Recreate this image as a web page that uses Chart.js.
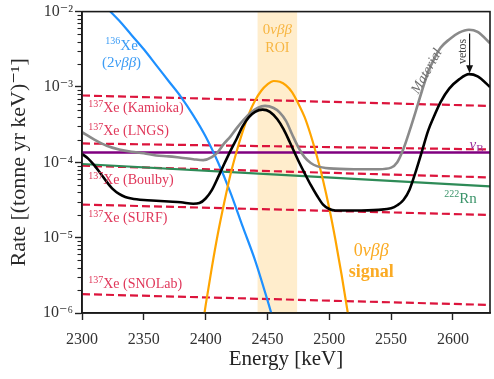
<!DOCTYPE html>
<html><head><meta charset="utf-8">
<script src="https://cdn.jsdelivr.net/npm/chart.js@4/dist/chart.umd.min.js"></script>
<style>html,body{margin:0;padding:0;background:#fff;}canvas{display:block}</style>
</head><body>
<canvas id="c" width="494" height="379"></canvas>
<script>
// ---------- data ----------
const xTicks = [2300, 2350, 2400, 2450, 2500, 2550, 2600];
const yTicks = [1e-6, 1e-5, 1e-4, 1e-3, 1e-2];
const yTickLabels = ['10⁻⁶', '10⁻⁵', '10⁻⁴', '10⁻³', '10⁻²'];
const xRange = [2300, 2630];
const roiRange = [2442, 2474];

// 136Xe 2vbb
const energyXe136 = [2300,2310,2320,2330,2340,2350,2360,2370,2380,2390,2400,2410,2420,2430,2440,2450,2460];
const rateXe136 = [2.4e-2,1.66e-2,1.12e-2,7.6e-3,4.9e-3,3.16e-3,1.95e-3,1.2e-3,7.4e-4,4.2e-4,2.2e-4,1.0e-4,4.0e-5,1.4e-5,5.0e-6,1.48e-6,4.0e-7];

// 0vbb signal
const energySignal = [2395,2400,2405,2410,2415,2420,2425,2430,2435,2440,2445,2450,2455,2460,2465,2470,2475,2480,2485,2490,2495,2500,2505,2510,2515,2520];
const rateSignal = [3.6e-7,1.26e-6,4.0e-6,1.15e-5,2.9e-5,6.8e-5,1.38e-4,2.57e-4,4.4e-4,6.6e-4,8.9e-4,1.08e-3,1.2e-3,1.17e-3,1.05e-3,8.5e-4,6.0e-4,4.0e-4,2.3e-4,1.2e-4,5.75e-5,2.45e-5,9.3e-6,3.2e-6,1.0e-6,2.8e-7];

// Material (before vetos)
const energyMaterial = [2300,2310,2320,2330,2340,2350,2360,2370,2380,2390,2398,2405,2410,2415,2420,2425,2430,2436,2442,2448,2455,2460,2465,2470,2475,2480,2485,2490,2500,2520,2540,2550,2555,2560,2565,2570,2575,2580,2585,2590,2597,2605,2613,2620,2630];
const rateMaterial = [2.51e-4,2.0e-4,1.66e-4,1.48e-4,1.38e-4,1.32e-4,1.23e-4,1.2e-4,1.15e-4,1.1e-4,1.07e-4,1.17e-4,1.38e-4,1.78e-4,2.19e-4,2.82e-4,3.55e-4,4.47e-4,5.25e-4,5.6e-4,5.25e-4,4.57e-4,3.55e-4,2.34e-4,1.58e-4,1.17e-4,9.8e-5,8.9e-5,8.3e-5,8.1e-5,8.1e-5,8.5e-5,1.0e-4,1.51e-4,2.63e-4,4.79e-4,8.9e-4,1.58e-3,2.4e-3,3.31e-3,4.27e-3,5.25e-3,5.75e-3,5.37e-3,3.8e-3];

// Total after vetos
const energyTotal = [2300,2305,2310,2315,2320,2325,2330,2335,2340,2350,2360,2370,2380,2390,2395,2400,2405,2410,2415,2420,2425,2430,2435,2440,2446,2452,2458,2463,2468,2475,2480,2485,2490,2495,2500,2505,2520,2540,2550,2555,2560,2565,2570,2575,2580,2585,2590,2597,2605,2613,2620,2630];
const rateTotal = [1.29e-4,1.12e-4,9.1e-5,7.1e-5,5.5e-5,4.4e-5,3.8e-5,3.47e-5,3.31e-5,3.16e-5,3.09e-5,3.02e-5,2.95e-5,2.82e-5,2.88e-5,3.31e-5,4.27e-5,6.3e-5,9.5e-5,1.41e-4,2.04e-4,3.02e-4,3.98e-4,4.68e-4,5.0e-4,4.68e-4,3.72e-4,2.75e-4,1.86e-4,1.05e-4,7.2e-5,5.0e-5,3.63e-5,2.75e-5,2.4e-5,2.29e-5,2.29e-5,2.34e-5,2.45e-5,2.69e-5,3.16e-5,4.37e-5,7.6e-5,1.41e-4,2.63e-4,4.17e-4,6.3e-4,9.5e-4,1.26e-3,1.48e-3,1.38e-3,1.0e-3];

// 137Xe by site (rate at 2300 keV and 2630 keV)
const xe137Sites = ['Kamioka', 'LNGS', 'Boulby', 'SURF', 'SNOLab'];
const xe137Start = [7.7e-4, 1.78e-4, 9.0e-5, 2.75e-5, 1.78e-6];
const xe137End = [5.6e-4, 1.48e-4, 6.3e-5, 2.0e-5, 1.28e-6];

// solar neutrinos and 222Rn
const rateNuB = [1.35e-4, 1.35e-4];
const rateRn222 = [9.5e-5, 4.8e-5];

// ---------- styling ----------
const SERIF = '"Liberation Serif", "DejaVu Serif", serif';
const pts = (xs, ys) => xs.map((x, i) => ({x, y: ys[i]}));
const lineDs = (data, color, width, order, extra) => Object.assign({
  data, borderColor: color, borderWidth: width, pointRadius: 0, fill: false,
  cubicInterpolationMode: 'monotone', order
}, extra || {});

const datasets = [];
datasets.push(lineDs(pts(energyTotal, rateTotal), '#000000', 2.6, 0));
datasets.push(lineDs(pts(energyMaterial, rateMaterial), '#8a8a8a', 2.6, 1));
datasets.push(lineDs(pts(energySignal, rateSignal), '#ffa500', 2.2, 2));
datasets.push(lineDs(pts(energyXe136, rateXe136), '#1e90ff', 2.2, 3));
datasets.push(lineDs(pts(xRange, rateNuB), '#800080', 2.4, 4));
datasets.push(lineDs(pts(xRange, rateRn222), '#2e8b57', 2.2, 5));
xe137Sites.forEach((s, i) => {
  datasets.push(lineDs(pts(xRange, [xe137Start[i], xe137End[i]]), '#dc143c', 2.2, 6 + i, {borderDash: [8, 4]}));
});

// text annotations (anchored in data coordinates)
const C137 = '#e0375a';
const labels = [
  {x: 2332, y: 3.05e-3, align: 'center', color: '#3c9cf5', parts: [{t: '136', f: '10px', dy: -6}, {t: 'Xe', f: '15px'}]},
  {x: 2332, y: 1.82e-3, align: 'center', color: '#3c9cf5', parts: [{t: '(2', f: '15px'}, {t: 'νββ', f: 'italic 15px'}, {t: ')', f: '15px'}]},
  {x: 2458, y: 4.97e-3, align: 'center', color: '#f7b540', parts: [{t: '0', f: '15px'}, {t: 'νββ', f: 'italic 15px'}]},
  {x: 2458, y: 2.88e-3, align: 'center', color: '#f7b540', parts: [{t: 'ROI', f: '14px'}]},
  {x: 2305, y: 4.65e-4, align: 'left', color: C137, parts: [{t: '137', f: '10px', dy: -5}, {t: 'Xe (Kamioka)', f: '14px'}]},
  {x: 2305, y: 2.31e-4, align: 'left', color: C137, parts: [{t: '137', f: '10px', dy: -5}, {t: 'Xe (LNGS)', f: '14px'}]},
  {x: 2305, y: 5.2e-5, align: 'left', color: C137, parts: [{t: '137', f: '10px', dy: -5}, {t: 'Xe (Boulby)', f: '14px'}]},
  {x: 2305, y: 1.59e-5, align: 'left', color: C137, parts: [{t: '137', f: '10px', dy: -5}, {t: 'Xe (SURF)', f: '14px'}]},
  {x: 2305, y: 2.14e-6, align: 'left', color: C137, parts: [{t: '137', f: '10px', dy: -5}, {t: 'Xe (SNOLab)', f: '14px'}]},
  {x: 2613.5, y: 1.51e-4, align: 'left', color: '#9b2f9b', parts: [{t: 'ν', f: 'italic 15px'}, {t: 'B', f: '11px', dy: 3}]},
  {x: 2593, y: 2.92e-5, align: 'left', color: '#3b946a', parts: [{t: '222', f: '10px', dy: -6}, {t: 'Rn', f: '15px'}]},
  {x: 2534, y: 5.65e-6, align: 'center', color: '#fbab24', parts: [{t: '0', f: '18px'}, {t: 'νββ', f: 'italic 18px'}]},
  {x: 2534, y: 2.99e-6, align: 'center', color: '#fbab24', parts: [{t: 'signal', f: 'bold 18px'}]}
];
const rotLabels = [
  {x: 2579, y: 1.61e-3, rot: -60.4, text: 'Material', f: 'italic 14px', color: '#6e6e6e'},
  {x: 2607.8, y: 2.96e-3, rot: -90, text: 'vetos', f: '12px', color: '#444444'}
];
const arrow = {x: 2613.5, from: 5.13e-3, to: 1.52e-3};

function drawRich(ctx, x, y, parts, align, color) {
  ctx.textBaseline = 'alphabetic';
  ctx.textAlign = 'left';
  ctx.fillStyle = color;
  let w = 0;
  parts.forEach(p => { ctx.font = p.f + ' ' + SERIF; p.w = ctx.measureText(p.t).width; w += p.w; });
  let cx = align === 'center' ? x - w / 2 : x;
  parts.forEach(p => { ctx.font = p.f + ' ' + SERIF; ctx.fillText(p.t, cx, y + (p.dy || 0)); cx += p.w; });
}

const decor = {
  id: 'decor',
  beforeDatasetsDraw(chart) {
    const {ctx, chartArea: a, scales: {x}} = chart;
    ctx.save();
    ctx.fillStyle = 'rgba(255,165,0,0.2)';
    const x0 = x.getPixelForValue(roiRange[0]), x1 = x.getPixelForValue(roiRange[1]);
    ctx.fillRect(x0, a.top, x1 - x0, a.bottom - a.top);
    ctx.restore();
  },
  afterDatasetsDraw(chart) {
    const {ctx, chartArea: a, scales: {x, y}} = chart;
    ctx.save();
    labels.forEach(l => drawRich(ctx, x.getPixelForValue(l.x), y.getPixelForValue(l.y), l.parts, l.align, l.color));
    rotLabels.forEach(l => {
      ctx.save();
      ctx.translate(x.getPixelForValue(l.x), y.getPixelForValue(l.y));
      ctx.rotate(l.rot * Math.PI / 180);
      ctx.font = l.f + ' ' + SERIF;
      ctx.fillStyle = l.color;
      ctx.textAlign = 'center';
      ctx.textBaseline = 'middle';
      ctx.fillText(l.text, 0, 0);
      ctx.restore();
    });
    // arrow
    const ax = x.getPixelForValue(arrow.x), ay0 = y.getPixelForValue(arrow.from), ay1 = y.getPixelForValue(arrow.to);
    ctx.strokeStyle = '#111'; ctx.fillStyle = '#111'; ctx.lineWidth = 1.2;
    ctx.beginPath(); ctx.moveTo(ax, ay0); ctx.lineTo(ax, ay1 - 6); ctx.stroke();
    ctx.beginPath(); ctx.moveTo(ax, ay1); ctx.lineTo(ax - 3.5, ay1 - 8); ctx.lineTo(ax + 3.5, ay1 - 8); ctx.closePath(); ctx.fill();
    // minor y ticks
    ctx.strokeStyle = '#222'; ctx.lineWidth = 1.1;
    for (let n = -6; n < -2; n++) {
      for (let m = 2; m <= 9; m++) {
        const py = Math.round(y.getPixelForValue(m * Math.pow(10, n))) + 0.5;
        ctx.beginPath(); ctx.moveTo(a.left - 4.5, py); ctx.lineTo(a.left, py); ctx.stroke();
      }
    }
    // frame
    ctx.strokeStyle = '#1a1a1a'; ctx.lineWidth = 1.6;
    ctx.strokeRect(a.left, a.top, a.right - a.left, a.bottom - a.top);
    ctx.restore();
  }
};

new Chart(document.getElementById('c'), {
  type: 'line',
  data: {datasets},
  plugins: [decor],
  options: {
    responsive: false,
    animation: false,
    devicePixelRatio: 1,
    layout: {padding: {top: 10, right: 4, left: 0, bottom: 0}},
    plugins: {legend: {display: false}, tooltip: {enabled: false}},
    elements: {line: {borderCapStyle: 'butt'}},
    scales: {
      x: {
        type: 'linear', min: xRange[0], max: xRange[1],
        afterBuildTicks: s => { s.ticks = xTicks.map(v => ({value: v})); },
        afterFit: s => { s.height = 66; },
        grid: {drawOnChartArea: false, drawTicks: true, tickLength: 7, tickColor: '#222', tickWidth: 1.4},
        border: {display: true, color: '#1a1a1a', width: 1.6},
        ticks: {font: {family: SERIF, size: 16}, color: '#333', padding: 10, maxRotation: 0, autoSkip: false,
                callback: v => String(v)},
        title: {display: true, text: 'Energy [keV]', font: {family: SERIF, size: 21}, color: '#222',
                padding: {top: 0, bottom: 7}}
      },
      y: {
        type: 'logarithmic', min: yTicks[0], max: yTicks[yTicks.length - 1],
        afterBuildTicks: s => { s.ticks = yTicks.map(v => ({value: v, major: true})); },
        afterFit: s => { s.width = 82; },
        grid: {drawOnChartArea: false, drawTicks: true, tickLength: 7, tickColor: '#222', tickWidth: 1.4},
        border: {display: true, color: '#1a1a1a', width: 1.6},
        ticks: {font: {family: SERIF, size: 16}, color: '#333', padding: 2, autoSkip: false,
                callback: v => { const i = yTicks.indexOf(v); return i >= 0 ? yTickLabels[i] : ''; }},
        title: {display: true, text: 'Rate [(tonne yr keV)⁻¹]', font: {family: SERIF, size: 22}, color: '#2a2a2a',
                padding: {top: 6, bottom: 0}}
      }
    }
  }
});
</script>
</body></html>
